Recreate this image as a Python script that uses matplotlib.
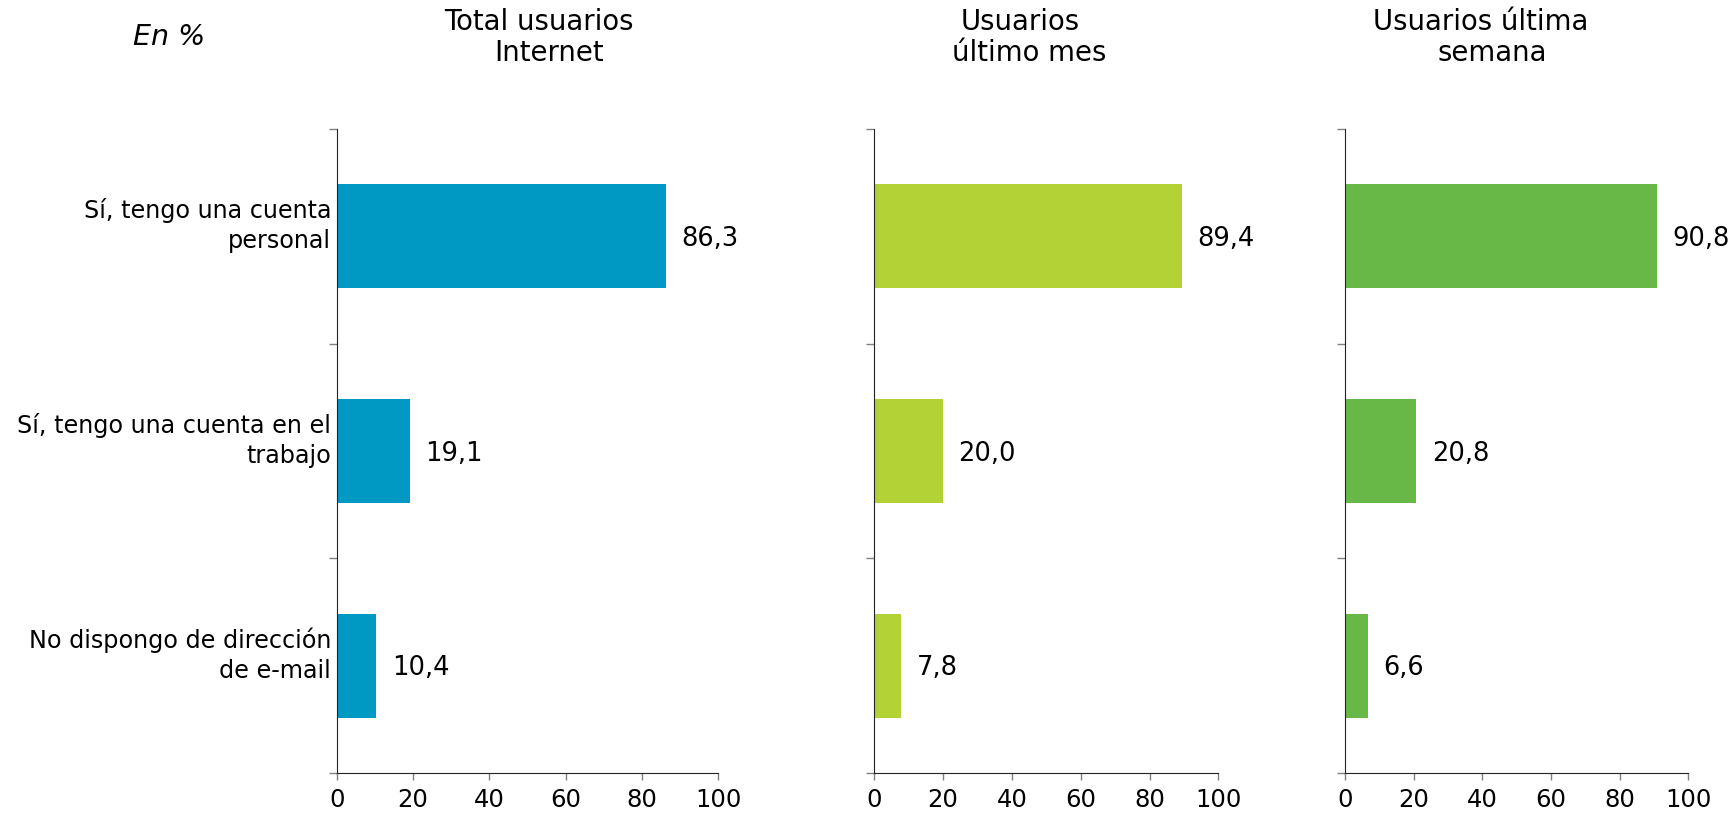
import matplotlib
matplotlib.use("Agg")
import matplotlib.pyplot as plt
import matplotlib.transforms as mtransforms
from matplotlib.ticker import FixedLocator

categories = ["Sí, tengo una cuenta\npersonal",
              "Sí, tengo una cuenta en el\ntrabajo",
              "No dispongo de dirección\nde e-mail"]
total_usuarios = [86.3, 19.1, 10.4]
usuarios_mes = [89.4, 20.0, 7.8]
usuarios_semana = [90.8, 20.8, 6.6]
series = [total_usuarios, usuarios_mes, usuarios_semana]
colors = ["#0099C4", "#B2D235", "#67B846"]
x_ticks = [0, 20, 40, 60, 80, 100]
titles = [("Total usuarios", "Internet"), ("Usuarios", "último mes"), ("Usuarios última", "semana")]

plt.rcParams['font.family'] = ['DejaVu Sans']
W, H = 1735, 815
fig = plt.figure(figsize=(W / 100, H / 100), dpi=100)

# panel extents in pixels (left, right)
panels = [(336.7, 718.3), (874.3, 1218.3), (1345.0, 1688.3)]
top_px, bot_px = 129, 773
title_centers = [(539, 549), (1020, 1029), (1481, 1492)]

for i, (vals, col) in enumerate(zip(series, colors)):
    l, r = panels[i]
    ax = fig.add_axes([l / W, 1 - bot_px / H, (r - l) / W, (bot_px - top_px) / H])
    y = list(range(len(categories)))
    ax.barh(y, vals, height=0.485, color=col, zorder=2)
    ax.set_xlim(0, 100)
    ax.set_ylim(2.5, -0.5)
    ax.set_xticks(x_ticks)
    ax.set_xticklabels([str(t) for t in x_ticks], fontsize=17.5)
    ax.yaxis.set_major_locator(FixedLocator([-0.5, 0.5, 1.5, 2.5]))
    ax.yaxis.set_minor_locator(FixedLocator(y))
    ax.set_yticklabels([], minor=False)
    ax.tick_params(axis='y', which='major', length=6, color='#808080', width=1)
    ax.tick_params(axis='y', which='minor', length=0, pad=4)
    ax.tick_params(axis='x', length=5, color='#808080', width=1, pad=6)
    if i == 0:
        labs = ax.set_yticklabels(categories, minor=True, fontsize=17.2, ha='right',
                                  multialignment='right', linespacing=1.32)
        offset = mtransforms.ScaledTranslation(0, 16 / 100, fig.dpi_scale_trans)
        for lab in labs:
            lab.set_transform(lab.get_transform() + offset)
    else:
        ax.set_yticklabels([], minor=True)
    for s in ['top', 'right']:
        ax.spines[s].set_visible(False)
    ax.spines['left'].set_color('#222222')
    ax.spines['bottom'].set_color('#222222')
    for yi, v in zip(y, vals):
        ax.annotate(f"{v:.1f}".replace('.', ','), xy=(v, yi), xytext=(11, -2),
                    textcoords='offset points', va='center', ha='left', fontsize=18.5)
    t1, t2 = titles[i]
    c1, c2 = title_centers[i]
    fig.text(c1 / W, 1 - 22 / H, t1, ha='center', va='center', fontsize=19.8)
    fig.text(c2 / W, 1 - 53 / H, t2, ha='center', va='center', fontsize=19.8)

fig.text(133 / W, 1 - 37 / H, "En %", ha='left', va='center', fontsize=20.5, style='italic')

fig.savefig("out.png", dpi=100)
